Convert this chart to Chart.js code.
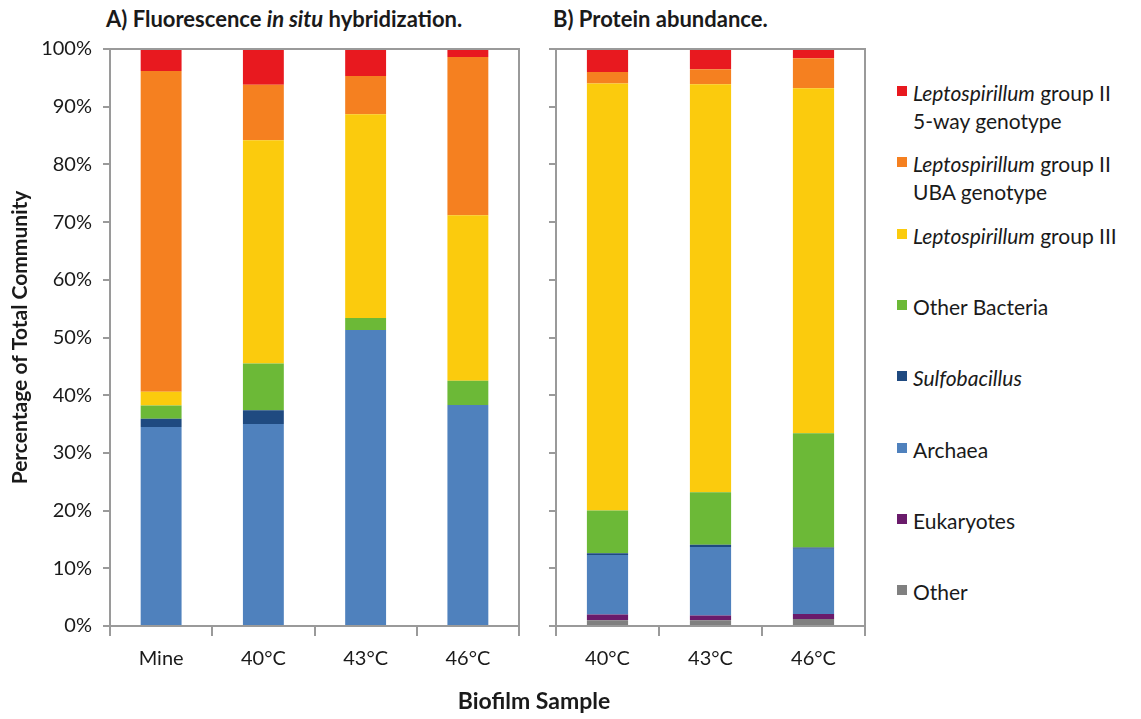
<!DOCTYPE html>
<html>
<head>
<meta charset="utf-8">
<script src="https://cdn.jsdelivr.net/npm/chart.js@4.4.1/dist/chart.umd.min.js"></script>
<style>
  body { margin: 0; background: #fff; font-family: Lato, sans-serif; color: #1a1a1a; }
  #wrap { position: relative; width: 1141px; height: 719px; overflow: hidden; }
  .box { position: absolute; top: 0; height: 719px; }
  .ptitle { position: absolute; font-weight: bold; font-size: 22px; white-space: nowrap; }
  .xtitle { position: absolute; font-weight: bold; font-size: 23px; left: 534px; top: 686px; transform: translateX(-50%); white-space: nowrap; }
  .leg { position: absolute; left: 913px; font-size: 21px; line-height: 28px; white-space: nowrap; }
  .leg .sw { position: absolute; left: -16px; top: 7px; width: 10px; height: 10px; }
</style>
</head>
<body>
<div id="wrap">
  <div class="ptitle" style="left:106px; top:5px;">A) Fluorescence <i>in situ</i> hybridization.</div>
  <div class="ptitle" style="left:553px; top:5px;">B) Protein abundance.</div>
  <div class="box" style="left:0; width:530px;"><canvas id="chartA"></canvas></div>
  <div class="box" style="left:530px; width:345px;"><canvas id="chartB"></canvas></div>
  <div class="xtitle">Biofilm Sample</div>
  <div id="legend"></div>
</div>
<script>
// categories
const samplesA = ['Mine', '40°C', '43°C', '46°C'];
const samplesB = ['40°C', '43°C', '46°C'];
const yTicks = [0, 10, 20, 30, 40, 50, 60, 70, 80, 90, 100];

// panel A, fluorescence in situ hybridization (% of community)
const otherA      = [0, 0, 0, 0];
const eukA        = [0, 0, 0, 0];
const archaeaA    = [34.5, 35.0, 51.3, 38.3];
const sulfoA      = [1.4, 2.4, 0, 0];
const otherBactA  = [2.3, 8.1, 2.1, 4.2];
const lepIIIA     = [2.4, 38.7, 35.3, 28.7];
const ubaA        = [55.6, 9.6, 6.6, 27.4];
const fiveWayA    = [3.8, 6.2, 4.7, 1.4];

// panel B, protein abundance (% of community)
const otherB      = [1.0, 1.0, 1.2];
const eukB        = [1.0, 0.8, 0.9];
const archaeaB    = [10.3, 11.9, 11.3];
const sulfoB      = [0.3, 0.4, 0.2];
const otherBactB  = [7.4, 9.1, 19.8];
const lepIIIB     = [74.0, 70.7, 59.8];
const ubaB        = [2.0, 2.6, 5.2];
const fiveWayB    = [4.0, 3.5, 1.6];

// legend entries, top of stack first
const groups = [
  { html: '<i>Leptospirillum</i> group II<br>5-way genotype', color: '#e8191f' },
  { html: '<i>Leptospirillum</i> group II<br>UBA genotype', color: '#f58020' },
  { html: '<i>Leptospirillum</i> group III', color: '#fbcb0d' },
  { html: 'Other Bacteria', color: '#6cb937' },
  { html: '<i>Sulfobacillus</i>', color: '#1f4a80' },
  { html: 'Archaea', color: '#4f81bd' },
  { html: 'Eukaryotes', color: '#6a1b6b' },
  { html: 'Other', color: '#808080' }
];

const frameColor = '#9a9a9a';

const legendEl = document.getElementById('legend');
groups.forEach((g, i) => {
  const d = document.createElement('div');
  d.className = 'leg';
  d.style.top = (79 + i * 71.3) + 'px';
  d.innerHTML = `<span class="sw" style="background:${g.color}"></span>${g.html}`;
  legendEl.appendChild(d);
});

// draws the grey box round the plot area
const framePlugin = {
  id: 'frame',
  afterDatasetsDraw(chart) {
    const { ctx, chartArea: a } = chart;
    ctx.save();
    ctx.strokeStyle = frameColor;
    ctx.lineWidth = 2;
    ctx.strokeRect(a.left, a.top, a.right - a.left, a.bottom - a.top);
    ctx.restore();
  }
};

function makeSets(other, euk, archaea, sulfo, otherBact, lepIII, uba, fiveWay) {
  const series = [other, euk, archaea, sulfo, otherBact, lepIII, uba, fiveWay];
  const names = ['Other', 'Eukaryotes', 'Archaea', 'Sulfobacillus', 'Other Bacteria',
                 'Leptospirillum group III', 'Leptospirillum group II UBA genotype',
                 'Leptospirillum group II 5-way genotype'];
  return series.map((data, i) => ({
    label: names[i],
    data: data,
    backgroundColor: groups[groups.length - 1 - i].color,
    borderWidth: 0,
    barPercentage: 0.4,
    categoryPercentage: 1.0
  }));
}

function makeChart(id, labels, datasets, yWidth, padRight, showLabels) {
  return new Chart(document.getElementById(id), {
    type: 'bar',
    data: { labels: labels, datasets: datasets },
    plugins: [framePlugin],
    options: {
      responsive: true,
      maintainAspectRatio: false,
      animation: false,
      layout: { padding: { top: 49, right: padRight, bottom: 0, left: 0 } },
      plugins: { legend: { display: false }, tooltip: { enabled: false } },
      scales: {
        x: {
          stacked: true,
          border: { display: false },
          grid: { offset: true, drawOnChartArea: false, tickLength: 10, color: frameColor, lineWidth: 2 },
          ticks: { color: '#1a1a1a', padding: 11, font: { family: 'Lato', size: 20 } },
          afterFit(scale) { scale.height = 93; }
        },
        y: {
          stacked: true,
          min: 0,
          max: 100,
          border: { display: false },
          afterBuildTicks(scale) { scale.ticks = yTicks.map(v => ({ value: v })); },
          grid: { drawOnChartArea: false, tickLength: 7, color: frameColor, lineWidth: 2 },
          ticks: {
            color: '#1a1a1a',
            padding: 11,
            font: { family: 'Lato', size: 20 },
            callback: v => showLabels ? v + '%' : ''
          },
          title: {
            display: showLabels,
            text: 'Percentage of Total Community',
            color: '#1a1a1a',
            padding: { top: 8, bottom: 0 },
            font: { family: 'Lato', size: 21, weight: 'bold' }
          },
          afterFit(scale) { scale.width = yWidth; }
        }
      }
    }
  });
}

makeChart('chartA', samplesA,
  makeSets(otherA, eukA, archaeaA, sulfoA, otherBactA, lepIIIA, ubaA, fiveWayA), 110, 11, true);
makeChart('chartB', samplesB,
  makeSets(otherB, eukB, archaeaB, sulfoB, otherBactB, lepIIIB, ubaB, fiveWayB), 26, 10, false);
</script>
</body>
</html>
